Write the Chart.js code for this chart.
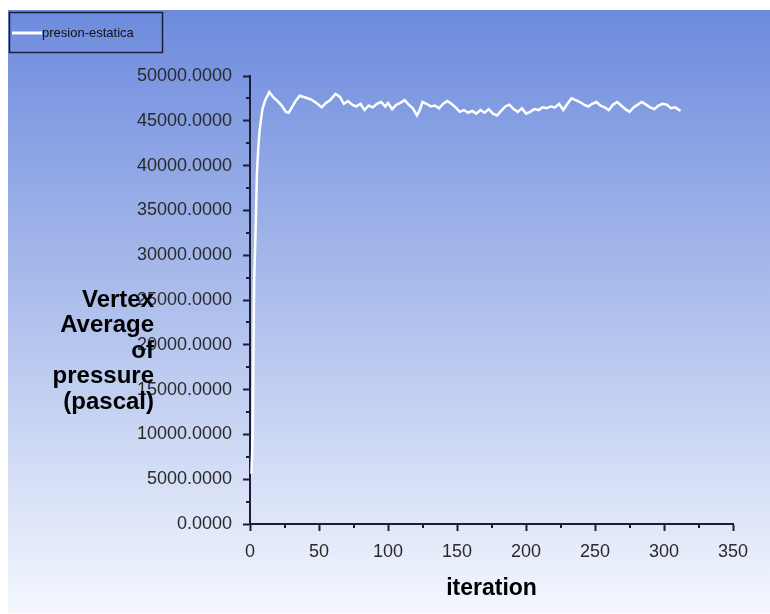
<!DOCTYPE html>
<html>
<head>
<meta charset="utf-8">
<title>presion-estatica</title>
<script src="https://cdn.jsdelivr.net/npm/chart.js@4/dist/chart.umd.min.js"></script>
<style>
  html, body { margin:0; padding:0; background:#fff; overflow:hidden; }
  #wrap { width:770px; height:614px; position:relative; }
</style>
</head>
<body>
<div id="wrap"><canvas id="c" width="770" height="614"></canvas></div>
<script>
// data
const seriesName = 'presion-estatica';
const iterations = [1,2,3,4,5,6,7,9,11,14,17,20,23,26,28,30,33,36,40,44,48,52,55,58,62,65,68,71,74,77,80,83,86,89,92,95,98,100,103,106,109,112,115,118,121,123,125,128,131,134,137,140,143,146,149,152,155,158,161,164,167,170,173,176,179,182,185,188,191,194,197,200,203,206,209,212,215,218,221,224,227,230,233,236,239,242,245,248,251,254,257,260,263,266,269,272,275,278,281,284,287,290,293,296,299,302,305,308,310,312];
const pressure = [5600,10000,27000,32500,39000,42000,44000,46300,47300,48200,47600,47200,46700,46000,45900,46400,47200,47800,47600,47400,47000,46500,47000,47300,48000,47700,46900,47200,46800,46600,46900,46200,46700,46500,46900,47100,46600,47000,46300,46800,47000,47300,46800,46400,45600,46200,47100,46900,46600,46700,46400,46900,47200,46900,46500,46000,46200,45900,46100,45800,46200,45900,46300,45800,45600,46100,46600,46800,46300,46000,46400,45800,46000,46300,46200,46500,46400,46600,46500,46900,46200,46900,47500,47300,47100,46800,46600,46900,47100,46700,46500,46200,46800,47100,46700,46300,46000,46500,46800,47100,46800,46500,46300,46700,46900,46800,46400,46500,46300,46100];
const yTicksMinor = [2500,7500,12500,17500,22500,27500,32500,37500,42500,47500];
const xTicksMinor = [25,75,125,175,225,275,325];
const yTitleLines = ['Vertex','Average','of','pressure','(pascal)'];
const xTitle = 'iteration';

const axisColor = '#1b1d3a';
const tickFont = { family:"'Liberation Sans', Arial, sans-serif", size:18 };

// gradient panel, legend box, minor ticks and axis titles
const decor = {
  id:'decor',
  beforeDraw(chart) {
    const ctx = chart.ctx;
    const g = ctx.createLinearGradient(0, 10, 0, 613);
    g.addColorStop(0, '#6d8bdd');
    g.addColorStop(0.5, '#afc0ec');
    g.addColorStop(1, '#f4f7fe');
    ctx.save();
    ctx.fillStyle = g;
    ctx.fillRect(8, 10, 762, 603);
    ctx.restore();
  },
  afterDraw(chart) {
    const ctx = chart.ctx;
    const xs = chart.scales.x, ys = chart.scales.y;
    ctx.save();
    // minor ticks
    ctx.strokeStyle = axisColor;
    ctx.lineWidth = 2;
    ctx.beginPath();
    yTicksMinor.forEach(v => {
      const p = Math.round(ys.getPixelForValue(v));
      ctx.moveTo(xs.left - 4, p); ctx.lineTo(xs.left, p);
    });
    xTicksMinor.forEach(v => {
      const p = Math.round(xs.getPixelForValue(v));
      ctx.moveTo(p, ys.bottom); ctx.lineTo(p, ys.bottom + 4);
    });
    ctx.stroke();

    // legend
    ctx.lineWidth = 1.5;
    ctx.strokeRect(9.5, 12.5, 153, 40);
    ctx.strokeStyle = '#ffffff';
    ctx.lineWidth = 3;
    ctx.beginPath(); ctx.moveTo(12, 33); ctx.lineTo(42, 33); ctx.stroke();
    ctx.fillStyle = '#111';
    ctx.font = "13px 'Liberation Sans', Arial, sans-serif";
    ctx.textBaseline = 'middle';
    ctx.textAlign = 'left';
    ctx.fillText(seriesName, 42, 33);

    // axis titles
    ctx.fillStyle = '#000';
    ctx.font = "bold 24px 'Liberation Sans', Arial, sans-serif";
    ctx.textAlign = 'right';
    yTitleLines.forEach((t, i) => ctx.fillText(t, 154, 300 + i * 25.5));
    ctx.font = "bold 23px 'Liberation Sans', Arial, sans-serif";
    ctx.textAlign = 'center';
    ctx.fillText(xTitle, (xs.left + xs.right) / 2, 589);
    ctx.restore();
  }
};

new Chart(document.getElementById('c'), {
  type:'line',
  data:{
    datasets:[{
      label: seriesName,
      data: iterations.map((it, i) => ({ x: it, y: pressure[i] })),
      borderColor:'#ffffff',
      borderWidth:2.5,
      pointRadius:0,
      tension:0,
      fill:false
    }]
  },
  options:{
    responsive:false,
    animation:false,
    layout:{ padding:{ top:76, right:37, left:0, bottom:0 } },
    plugins:{ legend:{ display:false }, tooltip:{ enabled:false } },
    scales:{
      x:{
        type:'linear', min:0, max:350,
        ticks:{ stepSize:50, color:'#2a2a2a', font:tickFont, padding:10, maxRotation:0 },
        grid:{ drawOnChartArea:false, drawTicks:true, tickLength:7, tickColor:axisColor, tickWidth:2 },
        border:{ display:true, color:axisColor, width:2 },
        afterFit(s){ s.height = 90; }
      },
      y:{
        min:0, max:50000,
        ticks:{ stepSize:5000, color:'#2a2a2a', font:tickFont, padding:11,
          callback:v => Number(v).toFixed(4) },
        grid:{ drawOnChartArea:false, drawTicks:true, tickLength:7, tickColor:axisColor, tickWidth:2 },
        border:{ display:true, color:axisColor, width:2 },
        afterFit(s){ s.width = 250; }
      }
    }
  },
  plugins:[decor]
});
</script>
</body>
</html>
